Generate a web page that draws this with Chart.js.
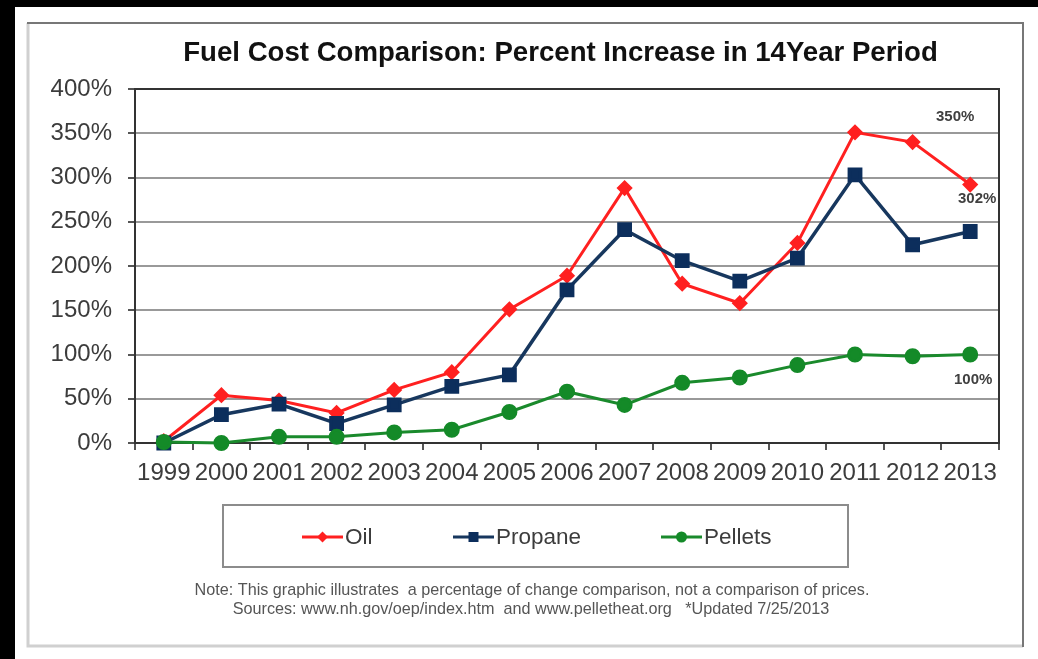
<!DOCTYPE html>
<html>
<head>
<meta charset="utf-8">
<title>Fuel Cost Comparison</title>
<script src="https://cdn.jsdelivr.net/npm/chart.js@4.4.1/dist/chart.umd.min.js"></script>
<style>
    html, body { margin: 0; padding: 0; background: #000; }
    #miGrafico { display: block; }
</style>
</head>
<body>
<canvas id="miGrafico" width="1038" height="659"></canvas>
<script>
// Datos
const anios = ['1999', '2000', '2001', '2002', '2003', '2004', '2005', '2006', '2007', '2008', '2009', '2010', '2011', '2012', '2013'];
const oil = [2, 54, 48, 34, 60, 80, 151, 189, 288, 180, 158, 226, 351, 340, 292];
const propane = [0, 32, 44, 22, 43, 64, 77, 173, 241, 206, 183, 209, 303, 224, 239];
const pellets = [1, 0, 7, 7, 12, 15, 35, 58, 43, 68, 74, 88, 100, 98, 100];
const marcasY = [0, 50, 100, 150, 200, 250, 300, 350, 400];
const etiquetas = ['350%', '302%', '100%'];
const notas = [
    'Note: This graphic illustrates  a percentage of change comparison, not a comparison of prices.',
    'Sources: www.nh.gov/oep/index.htm  and www.pelletheat.org   *Updated 7/25/2013'
];
const titulo = 'Fuel Cost Comparison: Percent Increase in 14Year Period';

const fuente = '"Liberation Sans", Arial, sans-serif';
const gris = '#3c3c3c';

// Dibuja un marcador simple (para la leyenda)
function dibujarMarca(ctx, estilo, x, y, r, color) {
    ctx.fillStyle = color;
    ctx.beginPath();
    if (estilo === 'rectRot') {
        ctx.moveTo(x - r, y); ctx.lineTo(x, y - r); ctx.lineTo(x + r, y); ctx.lineTo(x, y + r);
    } else if (estilo === 'rect') {
        ctx.rect(x - r, y - r, r * 2, r * 2);
    } else {
        ctx.arc(x, y, r, 0, Math.PI * 2);
    }
    ctx.closePath();
    ctx.fill();
}

// Plugin para el marco, titulo, leyenda, notas y etiquetas
const decoracion = {
    id: 'decoracion',
    beforeDraw(chart) {
        const ctx = chart.ctx;
        ctx.save();
        ctx.fillStyle = '#000';
        ctx.fillRect(0, 0, 1038, 659);
        ctx.fillStyle = '#fff';
        ctx.fillRect(15, 7, 1023, 652);
        // marco gris
        ctx.lineWidth = 3;
        ctx.strokeStyle = '#d0d0d0';
        ctx.beginPath();
        ctx.moveTo(28, 23); ctx.lineTo(28, 646); ctx.lineTo(1023, 646);
        ctx.stroke();
        ctx.lineWidth = 2;
        ctx.strokeStyle = '#777';
        ctx.beginPath();
        ctx.moveTo(27, 23); ctx.lineTo(1023, 23); ctx.lineTo(1023, 647);
        ctx.stroke();
        ctx.restore();
    },
    beforeDatasetsDraw(chart) {
        const ctx = chart.ctx;
        const area = chart.chartArea;
        ctx.save();
        ctx.strokeStyle = '#333';
        ctx.lineWidth = 2;
        ctx.beginPath();
        ctx.moveTo(area.left, area.top);
        ctx.lineTo(area.right, area.top);
        ctx.lineTo(area.right, area.bottom);
        ctx.stroke();
        ctx.restore();
    },
    afterDraw(chart) {
        const ctx = chart.ctx;
        const xs = chart.scales.x;
        const ys = chart.scales.y;
        ctx.save();

        // titulo
        ctx.fillStyle = '#111';
        ctx.font = 'bold 27.6px ' + fuente;
        ctx.textAlign = 'center';
        ctx.textBaseline = 'middle';
        ctx.fillText(titulo, 560.5, 53);

        // etiquetas de valores junto a 2013
        ctx.font = 'bold 15px ' + fuente;
        ctx.fillStyle = '#404040';
        const ult = anios.length - 1;
        ctx.fillText(etiquetas[0], xs.getPixelForValue(ult) - 15, ys.getPixelForValue(369));
        ctx.fillText(etiquetas[1], xs.getPixelForValue(ult) + 7, ys.getPixelForValue(276));
        ctx.fillText(etiquetas[2], xs.getPixelForValue(ult) + 3, ys.getPixelForValue(71));

        // leyenda con caja
        ctx.strokeStyle = '#8c8c8c';
        ctx.lineWidth = 2;
        ctx.strokeRect(223, 505, 625, 62);
        const inicios = [302, 453, 661];
        ctx.font = '22.5px ' + fuente;
        ctx.textAlign = 'left';
        chart.data.datasets.forEach(function (ds, i) {
            const x0 = inicios[i];
            const y0 = 537;
            ctx.strokeStyle = ds.borderColor;
            ctx.lineWidth = 3;
            ctx.beginPath();
            ctx.moveTo(x0, y0);
            ctx.lineTo(x0 + 41, y0);
            ctx.stroke();
            const r = ds.pointStyle === 'rect' ? 5 : 5.5;
            dibujarMarca(ctx, ds.pointStyle, x0 + 20.5, y0, r, ds.pointBackgroundColor);
            ctx.fillStyle = gris;
            ctx.fillText(ds.label, x0 + 43, y0 + 1);
        });

        // notas al pie
        ctx.font = '16.2px ' + fuente;
        ctx.fillStyle = '#555';
        ctx.textAlign = 'center';
        ctx.fillText(notas[0], 532, 591);
        ctx.fillText(notas[1], 531, 610);
        ctx.restore();
    }
};

const ctx = document.getElementById('miGrafico').getContext('2d');

const datosGrafico = {
    labels: anios,
    datasets: [{
        label: 'Oil',
        data: oil,
        borderColor: '#ff2020',
        backgroundColor: '#ff2020',
        pointBackgroundColor: '#ff2020',
        pointBorderColor: '#ff2020',
        pointStyle: 'rectRot',
        pointRadius: 6,
        borderWidth: 3,
        order: 3
    }, {
        label: 'Propane',
        data: propane,
        borderColor: '#17375e',
        backgroundColor: '#0c2e5c',
        pointBackgroundColor: '#0c2e5c',
        pointBorderColor: '#0c2e5c',
        pointStyle: 'rect',
        pointRadius: 8,
        borderWidth: 3.5,
        order: 2
    }, {
        label: 'Pellets',
        data: pellets,
        borderColor: '#1a8a2c',
        backgroundColor: '#148a28',
        pointBackgroundColor: '#148a28',
        pointBorderColor: '#148a28',
        pointStyle: 'circle',
        pointRadius: 6.5,
        borderWidth: 3,
        order: 1
    }]
};

new Chart(ctx, {
    type: 'line',
    data: datosGrafico,
    plugins: [decoracion],
    options: {
        responsive: false,
        animation: false,
        devicePixelRatio: 1,
        layout: {
            padding: { left: 0, right: 39, top: 89, bottom: 0 }
        },
        elements: {
            line: { tension: 0 },
            point: { borderWidth: 1 }
        },
        datasets: {
            line: { clip: false }
        },
        plugins: {
            legend: { display: false },
            title: { display: false },
            tooltip: { enabled: false }
        },
        scales: {
            x: {
                offset: true,
                grid: {
                    offset: true,
                    drawOnChartArea: false,
                    tickLength: 7,
                    tickColor: '#555',
                    lineWidth: 2
                },
                border: { color: '#333', width: 2 },
                ticks: {
                    color: gris,
                    font: { family: fuente, size: 24 },
                    padding: 9,
                    maxRotation: 0,
                    autoSkip: false
                },
                afterFit: function (scale) {
                    scale.height = 659 - 443;
                }
            },
            y: {
                min: 0,
                max: 400,
                afterBuildTicks: function (scale) {
                    scale.ticks = marcasY.map(function (v) { return { value: v }; });
                },
                grid: {
                    color: function (c) { return c.tick && c.tick.value === 400 ? '#333' : '#999'; },
                    lineWidth: 2,
                    tickLength: 7,
                    tickColor: '#555'
                },
                border: { color: '#333', width: 2 },
                ticks: {
                    color: gris,
                    font: { family: fuente, size: 24 },
                    padding: 16,
                    callback: function (v) { return v + '%'; }
                },
                afterFit: function (scale) {
                    scale.width = 135;
                }
            }
        }
    }
});
</script>
</body>
</html>
